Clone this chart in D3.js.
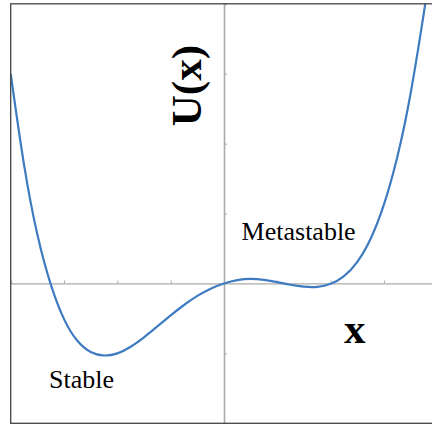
<!DOCTYPE html>
<html>
<head>
<meta charset="utf-8">
<script src="https://cdn.jsdelivr.net/npm/d3@7"></script>
<style>
  html, body { margin: 0; padding: 0; background: #fff; }
  svg { display: block; }
  .serif { font-family: "Liberation Serif", "Tinos", "Times New Roman", "DejaVu Serif", serif; }
</style>
</head>
<body>
<svg id="chart" width="432" height="424"></svg>
<script>
// Potential energy curve U(x), sampled along x
const xs = [-4.00, -3.75, -3.50, -3.25, -3.00, -2.75, -2.50, -2.25, -2.00, -1.75, -1.50,
            -1.25, -1.00, -0.75, -0.50, -0.25, 0.00, 0.25, 0.50, 0.75, 1.00, 1.25,
            1.50, 1.75, 2.00, 2.25, 2.50, 2.75, 3.00, 3.25, 3.50, 3.75, 3.85];
const us = [3.00, 1.70, 0.70, -0.01, -0.51, -0.82, -0.98, -1.03, -1.00, -0.905, -0.77,
            -0.615, -0.457, -0.308, -0.178, -0.074, 0.00, 0.048, 0.065, 0.052, 0.020, -0.018,
            -0.045, -0.048, -0.005, 0.105, 0.31, 0.64, 1.13, 1.81, 2.72, 3.88, 4.40];

const xDomain = [-4, 4];
const yDomain = [-2, 4];
const xTicks = [-3, -2, -1, 1, 2, 3];
const yTicks = [-1, 1, 2, 3];

const axisLabelY = "U(x)";
const axisLabelX = "x";
const stateLabels = [
  { text: "Stable", x: -3.28, u: -1.49 },
  { text: "Metastable", x: 0.33, u: 0.62 }
];

const svg = d3.select("#chart");
const frame = { left: 10.7, right: 437.3, top: 3.8, bottom: 423.3 };

const x = d3.scaleLinear().domain(xDomain).range([frame.left, frame.right]);
const y = d3.scaleLinear().domain(yDomain).range([frame.bottom, frame.top]);

svg.append("defs").append("clipPath").attr("id", "plot-clip")
  .append("rect").attr("x", frame.left).attr("y", frame.top)
  .attr("width", frame.right - frame.left).attr("height", frame.bottom - frame.top);

// Axes through the origin
const axisColor = "#aaaaaa";
const xAxis = d3.axisTop(x).tickValues(xTicks).tickSize(3).tickFormat("");
const gx = svg.append("g").attr("transform", `translate(0,${y(0)})`).call(xAxis);
gx.select(".domain").attr("stroke", axisColor).attr("stroke-width", 1.3);
gx.selectAll(".tick line").attr("stroke", axisColor).attr("stroke-width", 1);

const yAxis = d3.axisRight(y).tickValues(yTicks).tickSize(3).tickFormat("");
const gy = svg.append("g").attr("transform", `translate(${x(0)},0)`).call(yAxis);
gy.select(".domain").attr("stroke", axisColor).attr("stroke-width", 1.6);
gy.selectAll(".tick line").attr("stroke", axisColor).attr("stroke-width", 1);

// Curve
const pts = xs.map((v, i) => [v, us[i]]);
const line = d3.line()
  .x(d => x(d[0]))
  .y(d => y(d[1]))
  .curve(d3.curveNatural);

svg.append("path")
  .datum(pts)
  .attr("clip-path", "url(#plot-clip)")
  .attr("fill", "none")
  .attr("stroke", "#3f7bc1")
  .attr("stroke-width", 2.2)
  .attr("stroke-linejoin", "round")
  .attr("d", line);

// Frame
svg.append("rect")
  .attr("x", frame.left).attr("y", frame.top)
  .attr("width", frame.right - frame.left).attr("height", frame.bottom - frame.top)
  .attr("fill", "none").attr("stroke", "#444").attr("stroke-width", 1.3);

// Labels
svg.append("text")
  .attr("class", "serif")
  .attr("transform", `translate(${x(-0.44)},${y(2.83)}) rotate(-90)`)
  .attr("text-anchor", "middle")
  .attr("font-weight", "bold")
  .attr("font-size", 43)
  .attr("fill", "#000")
  .text(axisLabelY);

svg.append("text")
  .attr("class", "serif")
  .attr("x", x(2.25)).attr("y", y(-0.85))
  .attr("font-weight", "bold")
  .attr("font-size", 43)
  .attr("fill", "#000")
  .text(axisLabelX);

svg.selectAll("text.state")
  .data(stateLabels)
  .join("text")
  .attr("class", "state serif")
  .attr("x", d => x(d.x)).attr("y", d => y(d.u))
  .attr("font-size", 26)
  .attr("fill", "#000")
  .text(d => d.text);
</script>
</body>
</html>
